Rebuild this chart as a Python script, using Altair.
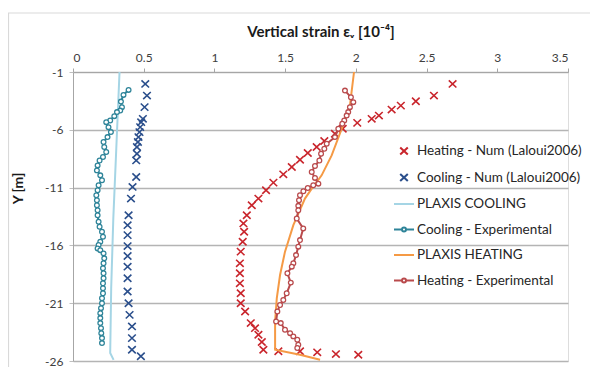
import altair as alt
import pandas as pd

# ---------------- data ----------------
series_names = [
    "Heating - Num (Laloui2006)",
    "Cooling - Num (Laloui2006)",
    "PLAXIS COOLING",
    "Cooling - Experimental",
    "PLAXIS HEATING",
    "Heating - Experimental",
]
series_colors = ["#c9252c", "#2b4f8c", "#a5d5e5", "#2e8499", "#f59a45", "#b94a4c"]

heat_num_x = [2.684, 2.552, 2.424, 2.318, 2.253, 2.163, 2.112, 2.01, 1.907, 1.852,
              1.777, 1.723, 1.66, 1.605, 1.547, 1.487, 1.417, 1.365, 1.311, 1.264,
              1.229, 1.205, 1.21, 1.2, 1.186, 1.18, 1.18, 1.18, 1.186, 1.186,
              1.217, 1.257, 1.287, 1.311, 1.335, 1.346, 1.452, 1.605, 1.727, 1.859, 2.017]
heat_num_y = [-2.03, -3.04, -3.53, -3.91, -4.25, -4.77, -5.05, -5.40, -5.91, -6.34,
              -6.97, -7.49, -8.01, -8.59, -9.22, -9.85, -10.57, -11.23, -11.95, -12.53,
              -13.39, -14.1, -14.82, -15.68, -16.54, -17.55, -18.41, -19.28, -20.14, -21.0,
              -21.72, -22.72, -23.16, -23.73, -24.36, -25.03, -25.16, -25.16, -25.25, -25.4, -25.46]

cool_num_x = [0.511, 0.523, 0.506, 0.494, 0.482, 0.475, 0.47, 0.463, 0.459, 0.452,
              0.452, 0.447, 0.447, 0.421, 0.41, 0.393, 0.386, 0.386, 0.386, 0.386,
              0.386, 0.386, 0.386, 0.393, 0.40, 0.417, 0.417, 0.417, 0.48]
cool_num_y = [-2.03, -3.04, -4.04, -5.05, -5.34, -5.77, -6.2, -6.63, -7.06, -7.49,
              -8.07, -8.65, -10.08, -10.94, -11.95, -13.39, -14.25, -15.11, -16.06, -16.92,
              -17.84, -18.84, -19.99, -21.0, -22.01, -23.01, -24.02, -25.03, -25.59]

plaxis_cool_x = [0.329, 0.306, 0.285, 0.27, 0.263, 0.287]
plaxis_cool_y = [-1.0, -7.64, -13.67, -19.7, -25.3, -25.9]

cool_exp_x = [0.393, 0.357, 0.339, 0.346, 0.334, 0.311, 0.292, 0.263, 0.235, 0.251,
              0.268, 0.244, 0.216, 0.221, 0.235, 0.212, 0.188, 0.174, 0.169, 0.193,
              0.205, 0.181, 0.174, 0.165, 0.169, 0.169, 0.174, 0.174, 0.181, 0.188,
              0.205, 0.212, 0.193, 0.181, 0.174, 0.193, 0.216, 0.221, 0.216, 0.212,
              0.216, 0.216, 0.212, 0.212, 0.212, 0.205, 0.205, 0.198, 0.193, 0.193,
              0.193, 0.198, 0.20, 0.205, 0.205]
cool_exp_y = [-2.55, -2.98, -3.56, -4.04, -4.34, -4.47, -4.82, -5.2, -5.34, -5.77,
              -6.2, -6.63, -7.06, -7.49, -7.92, -8.35, -8.65, -9.08, -9.51, -9.94,
              -10.37, -10.8, -11.23, -11.66, -12.09, -12.53, -12.96, -13.39, -13.96, -14.39,
              -14.82, -15.25, -15.68, -15.97, -16.26, -16.41, -16.69, -17.12, -17.55, -17.98,
              -18.41, -18.84, -19.28, -19.71, -20.14, -20.57, -21.0, -21.43, -21.86, -22.29,
              -22.72, -23.16, -23.59, -24.02, -24.45]

plaxis_heat_x = [1.987, 1.958, 1.90, 1.829, 1.758, 1.688, 1.64, 1.558, 1.499, 1.464,
                 1.441, 1.429, 1.429, 1.605, 1.747]
plaxis_heat_y = [-1.0, -3.9, -5.91, -8.22, -9.94, -11.09, -11.95, -14.25, -16.54, -18.56,
                 -20.57, -22.58, -25.03, -25.46, -25.89]

heat_exp_x = [1.923, 1.965, 1.982, 1.958, 1.946, 1.935, 1.918, 1.904, 1.876, 1.852,
              1.794, 1.777, 1.754, 1.742, 1.711, 1.688, 1.711, 1.735, 1.699, 1.66,
              1.629, 1.605, 1.598, 1.593, 1.593, 1.582, 1.628, 1.605, 1.593, 1.577,
              1.558, 1.547, 1.516, 1.54, 1.511, 1.487, 1.464, 1.445, 1.436, 1.469,
              1.499, 1.535, 1.558, 1.586, 1.593, 1.586]
heat_exp_y = [-2.61, -3.18, -3.61, -4.04, -4.47, -4.77, -5.2, -5.48, -5.91, -6.63,
              -7.21, -7.64, -8.07, -8.65, -9.13, -9.65, -10.16, -10.66, -10.8, -11.03,
              -11.32, -11.66, -12.09, -12.58, -12.96, -13.67, -14.53, -15.54, -16.11, -16.84,
              -17.55, -17.84, -18.41, -19.22, -20.14, -20.72, -21.15, -21.72, -22.58, -22.72,
              -23.3, -23.59, -23.87, -24.16, -24.59, -24.88]

x_ticks = [0, 0.5, 1, 1.5, 2, 2.5, 3, 3.5]
y_ticks = [-1, -6, -11, -16, -21, -26]

# legend / marker symbols (unit paths)
shape_paths = [
    "M-0.38,-0.36L0.38,0.36M-0.38,0.36L0.38,-0.36",
    "M-0.38,-0.36L0.38,0.36M-0.38,0.36L0.38,-0.36",
    "M-1,0L1,0",
    "M-1,0L-0.2,0M0.2,0L1,0M-0.2,0A0.2,0.2 0 1,1 0.2,0A0.2,0.2 0 1,1 -0.2,0",
    "M-1,0L1,0",
    "M-1,0L-0.2,0M0.2,0L1,0M-0.2,0A0.2,0.2 0 1,1 0.2,0A0.2,0.2 0 1,1 -0.2,0",
]


def frame(name, xs, ys):
    return pd.DataFrame({"series": name, "x": xs, "y": ys, "i": list(range(len(xs)))})


df_hn = frame(series_names[0], heat_num_x, heat_num_y)
df_cn = frame(series_names[1], cool_num_x, cool_num_y)
df_pc = frame(series_names[2], plaxis_cool_x, plaxis_cool_y)
df_ce = frame(series_names[3], cool_exp_x, cool_exp_y)
df_ph = frame(series_names[4], plaxis_heat_x, plaxis_heat_y)
df_he = frame(series_names[5], heat_exp_x, heat_exp_y)

FONT = "Lato"
W, H = 495, 289

x_enc = alt.X(
    "x:Q",
    scale=alt.Scale(domain=[0, 3.5], nice=False, zero=False),
    axis=alt.Axis(
        orient="top", values=x_ticks, grid=False, title="Vertical strain εᵥ [10⁻⁴]",
        labelExpr="'' + datum.value", labelFontSize=12, labelColor="#404040",
        labelPadding=4, tickSize=4, tickColor="#a6a6a6", domainColor="#a6a6a6",
        titleFontSize=15, titleFontWeight="bold", titleColor="#1a1a1a", titlePadding=12,
        labelFont=FONT, titleFont=FONT,
    ),
)
y_enc = alt.Y(
    "y:Q",
    scale=alt.Scale(domain=[-26, -1], nice=False, zero=False),
    axis=alt.Axis(
        values=y_ticks, grid=True, gridColor="#b4b4b4", gridWidth=1.3,
        title="Y [m]", labelExpr="'' + datum.value", labelFontSize=12,
        labelColor="#404040", labelPadding=6, tickSize=4, tickColor="#bfbfbf",
        domainColor="#a6a6a6", titleFontSize=14, titleFontWeight="bold",
        titleColor="#1a1a1a", titleX=-48, titleY=116, labelFont=FONT, titleFont=FONT,
    ),
)

legend = alt.Legend(
    title=None, orient="none", legendX=320, legendY=68, symbolSize=400,
    symbolStrokeWidth=2, symbolFillColor="transparent", labelFontSize=13.5,
    labelColor="#262626", labelFont=FONT, labelOffset=2, rowPadding=7.5,
    labelLimit=300,
)
color_enc = alt.Color("series:N", scale=alt.Scale(domain=series_names, range=series_colors),
                      legend=legend)
shape_enc = alt.Shape("series:N", scale=alt.Scale(domain=series_names, range=shape_paths),
                      legend=legend)

frame_rect = alt.Chart(pd.DataFrame({"a": [0]})).mark_rect(
    fillOpacity=0, stroke="#d9d9d9", strokeWidth=1.2
).encode(x=alt.value(-64.5), x2=alt.value(800), y=alt.value(-59), y2=alt.value(800))

num_points = alt.Chart(pd.concat([df_hn, df_cn])).mark_point(
    filled=False, size=400, strokeWidth=1.6, opacity=1
).encode(x=x_enc, y=y_enc, color=color_enc, shape=shape_enc)


def line_layer(df, width):
    return alt.Chart(df).mark_line(strokeWidth=width).encode(
        x=x_enc, y=y_enc, color=color_enc, order=alt.Order("i:Q")
    )


def circle_layer(df, col):
    return alt.Chart(df).mark_point(
        shape="circle", filled=True, fill="white", stroke=col, size=22,
        strokeWidth=1.3, opacity=1
    ).encode(x=x_enc, y=y_enc)


chart = alt.layer(
    frame_rect,
    num_points,
    line_layer(df_pc, 2),
    line_layer(df_ce, 2),
    circle_layer(df_ce, series_colors[3]),
    line_layer(df_ph, 2),
    line_layer(df_he, 2),
    circle_layer(df_he, series_colors[5]),
).properties(
    width=W, height=H,
    autosize=alt.AutoSizeParams(type="none"),
    padding={"left": 65, "top": 64, "right": 22, "bottom": 8},
).configure_view(stroke=None).configure(font=FONT, background="white")

chart.save("out.html", embed_options={"renderer": "svg", "actions": False})
